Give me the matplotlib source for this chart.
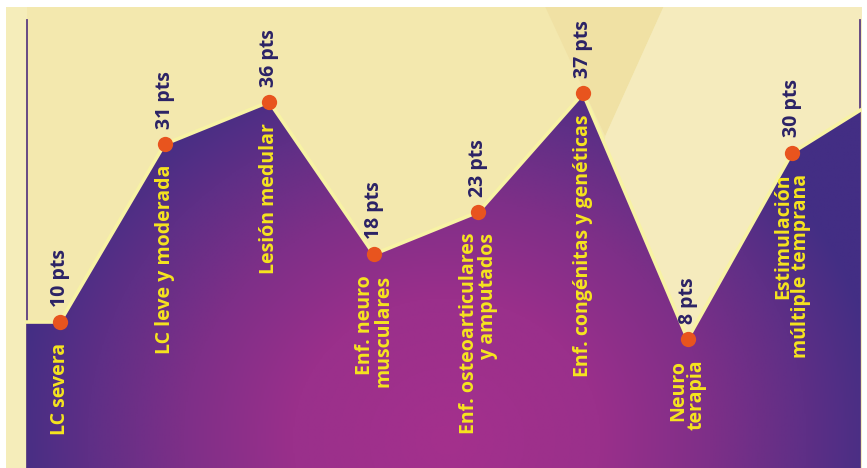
import numpy as np
import matplotlib
matplotlib.use("Agg")
import matplotlib.pyplot as plt
from matplotlib.colors import LinearSegmentedColormap
from matplotlib.patches import Polygon

# Puntajes por área de atención
categories = [
    "LC severa",
    "LC leve y moderada",
    "Lesión medular",
    "Enf. neuro\nmusculares",
    "Enf. osteoarticulares\ny amputados",
    "Enf. congénitas y genéticas",
    "Neuro\nterapia",
    "Estimulación\nmúltiple temprana",
]
values = [10, 31, 36, 18, 23, 37, 8, 30]
value_labels = ["10 pts", "31 pts", "36 pts", "18 pts", "23 pts", "37 pts", "8 pts", "30 pts"]
# level of the band where it meets the left and right frame lines
edge_values = [10, 35]

plt.rcParams["font.family"] = ["Open Sans", "DejaVu Sans"]

fig = plt.figure(figsize=(8.67, 4.68), dpi=100, facecolor="white")
ax = fig.add_axes([6 / 867, 0, 856 / 867, 461 / 468])
xmin, xmax = -0.516, 7.667
ymin, ymax = -7.24, 47.2
ax.set_xlim(xmin, xmax)
ax.set_ylim(ymin, ymax)
ax.axis("off")

# pale background panels
ax.add_patch(Polygon([[0, 0], [1, 0], [1, 1], [0, 1]], closed=True,
                     transform=ax.transAxes, facecolor="#f3e8ae", edgecolor="none", zorder=0))
ax.add_patch(Polygon([[0.0, 0], [0.024, 0], [0.024, 1], [0.0, 1]], closed=True,
                     transform=ax.transAxes, facecolor="#f5edba", edgecolor="none", zorder=0.1))
ax.add_patch(Polygon([[0.63, 1], [0.768, 1], [0.70, 0.72]], closed=True,
                     transform=ax.transAxes, facecolor="#f0e1a4", edgecolor="none", zorder=0.2))
ax.add_patch(Polygon([[0.768, 1], [1, 1], [1, 0], [0.64, 0], [0.70, 0.72]], closed=True,
                     transform=ax.transAxes, facecolor="#f5ebbd", edgecolor="none", zorder=0.2))

x_left, x_right = -0.316, 7.648
xs = np.arange(len(values))

# frame lines
ax.plot([x_left, x_left], [ymin, 45.7], color="#5b3d80", lw=1.3, zorder=1)
ax.plot([x_right, x_right], [ymin, 45.7], color="#5b3d80", lw=1.3, zorder=1)

# area outline
px = np.concatenate([[x_left], xs, [x_right]])
py = np.concatenate([[edge_values[0]], values, [edge_values[1]]])
poly = Polygon(np.column_stack([np.concatenate([px, [x_right, x_left]]),
                                np.concatenate([py, [ymin, ymin]])]),
               closed=True, facecolor="none", edgecolor="none")
ax.add_patch(poly)

# radial purple-magenta gradient clipped to the area
cmap = LinearSegmentedColormap.from_list(
    "band",
    [(0.0, "#a4308d"), (0.35, "#9a308b"), (0.6, "#7e2f88"),
     (0.82, "#5e2f86"), (1.0, "#432e84")])
gx = np.linspace(xmin, xmax, 600)
gy = np.linspace(ymin, ymax, 320)
GX, GY = np.meshgrid(gx, gy)
cx, cy = 3.7, -4.0
d = np.sqrt(((GX - cx) / 4.2) ** 2 + ((GY - cy) / 48.0) ** 2)
d = np.clip(d, 0, 1)
im = ax.imshow(d, extent=[xmin, xmax, ymin, ymax], origin="lower", cmap=cmap,
               vmin=0, vmax=1, aspect="auto", interpolation="bilinear", zorder=2)
im.set_clip_path(poly)

# glowing edge along the top of the area
ax.plot(px, py, color="#f8f3a4", lw=2.6, zorder=3, solid_joinstyle="miter")
ax.plot(xs, values, "o", color="#e8541e", ms=11, mec="none", zorder=4)

for x, v, cat, lab in zip(xs, values, categories, value_labels):
    ax.annotate(lab, (x, v), xytext=(0, 11), textcoords="offset points",
                rotation=90, ha="center", va="bottom", fontsize=14,
                fontweight="bold", color="#2b2266", zorder=5)
    ax.annotate(cat, (x, v), xytext=(0, -15), textcoords="offset points",
                rotation=90, ha="center", va="top", fontsize=14,
                fontweight="bold", color="#f6e51e", multialignment="right",
                linespacing=0.9, zorder=5)

fig.savefig("out.png", dpi=100, facecolor="white")
